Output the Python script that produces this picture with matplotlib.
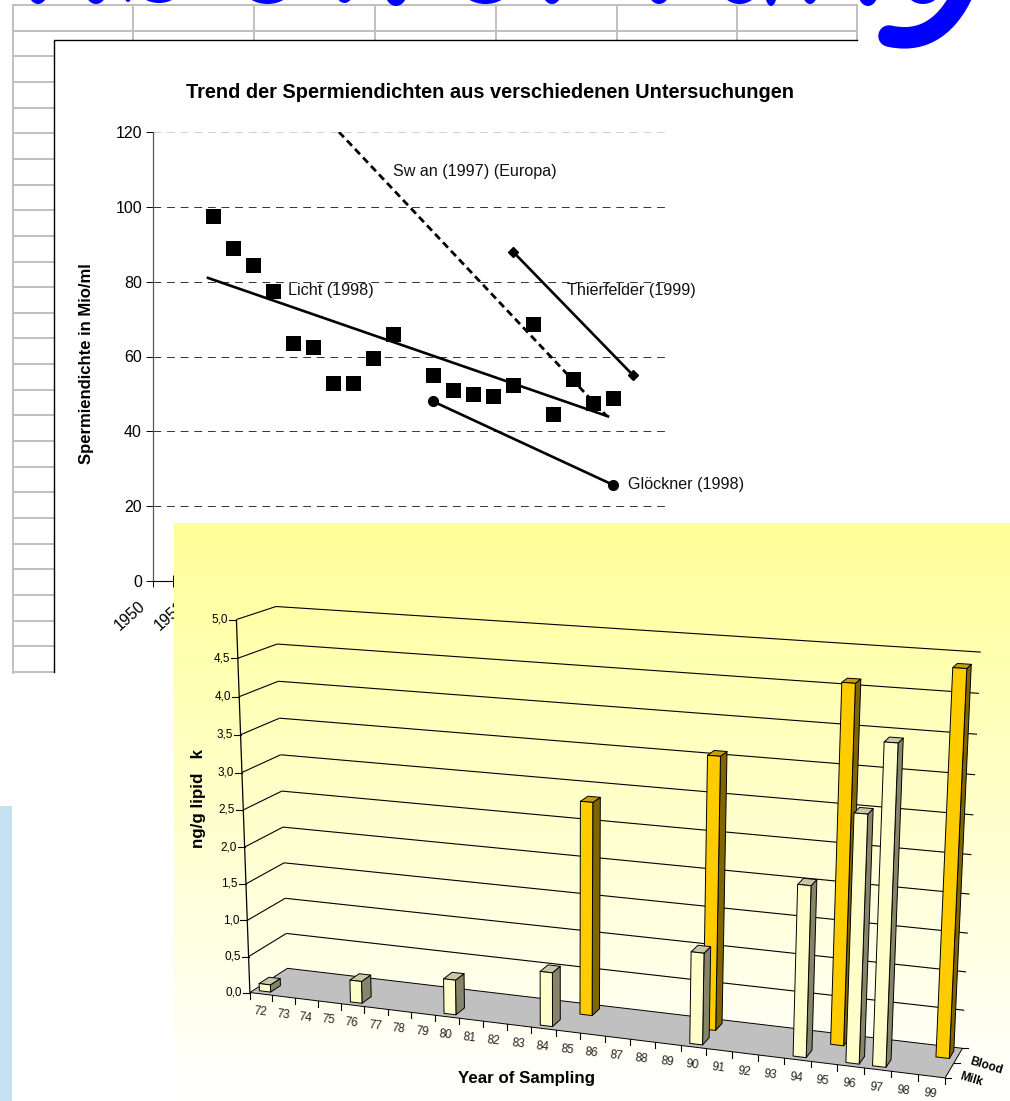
import numpy as np
import matplotlib
matplotlib.use("Agg")
import matplotlib.pyplot as plt
from matplotlib.patches import Rectangle, Ellipse, PathPatch
from matplotlib.path import Path
from matplotlib.transforms import ScaledTranslation

plt.rcParams["font.family"] = ["Liberation Sans", "DejaVu Sans"]

W, H = 1010, 1101

# upper chart: sperm density trends
licht_years = [1953, 1954, 1955, 1956, 1957, 1958, 1959, 1960, 1961, 1962,
               1964, 1965, 1966, 1967, 1968, 1969, 1970, 1971, 1972, 1973]
licht_values = [97.5, 89, 84.5, 77.5, 63.5, 62.5, 53, 53, 59.5, 66,
                55, 51, 50, 49.5, 52.5, 68.7, 44.5, 54, 47.5, 49]
licht_trend_years = [1952.75, 1972.75]
licht_trend_values = [81, 44]
swan_years = [1959.3, 1972.7]
swan_values = [120, 44]
thierfelder_years = [1968, 1974]
thierfelder_values = [88, 55]
gloeckner_years = [1964, 1973]
gloeckner_values = [48, 25.7]
density_ticks = [0, 20, 40, 60, 80, 100, 120]
tick_years = list(range(1950, 1976))
label_years = [1950, 1952]

# lower chart: 3d bars
sample_years = list(range(72, 100))
milk_years = [72, 76, 80, 84, 90, 94, 96, 97]
milk_values = [0.1, 0.3, 0.47, 0.72, 1.2, 2.2, 3.15, 4.04]
blood_years = [85, 90, 95, 99]
blood_values = [2.84, 3.57, 4.6, 4.87]
lipid_ticks = [0.0, 0.5, 1.0, 1.5, 2.0, 2.5, 3.0, 3.5, 4.0, 4.5, 5.0]

# bottoms of the big blue heading that is cut off by the top of the picture
heading_bits = [(28, 48, 4), (85, 107, 4), (123, 133, 2), (138, 180, 3), (245, 290, 4),
                (335, 354, 3), (385, 407, 6), (463, 508, 4), (542, 562, 4), (648, 670, 4),
                (722, 757, 4), (765, 777, 6), (802, 818, 4), (858, 878, 6)]

fig = plt.figure(figsize=(W / 100, H / 100), dpi=100, facecolor="white")


def pixel_axes(zorder):
    ax = fig.add_axes([0, 0, 1, 1], zorder=zorder)
    ax.set_xlim(0, W)
    ax.set_ylim(H, 0)
    ax.axis("off")
    return ax


# page background, spreadsheet grid and the white chart panel
page = pixel_axes(0)
GREY = "#c0c0c0"
for x in [132.5, 253.5, 374.5, 495.5, 616.5, 736.5, 857]:
    page.plot([x, x], [5, 40], color=GREY, lw=1.4)
page.plot([13, 13], [5, 672.5], color=GREY, lw=1.4)
for i in range(27):
    y = 5 + 25.65 * i
    page.plot([13, 857], [y, y], color=GREY, lw=1.4)
page.add_patch(Rectangle((53.5, 39.5), 806, 640, fc="white", ec="none", zorder=3))
page.plot([53.5, 53.5, 857], [672, 39.5, 39.5], color="black", lw=1.0, zorder=4)
page.add_patch(Rectangle((0, 806), 12, H - 806, fc="#c5e2f2", ec="none"))

for x0, x1, bottom in heading_bits:
    page.add_patch(Ellipse(((x0 + x1) / 2, bottom - 14), x1 - x0, 28, fc="#0000ff", ec="none", zorder=5))
page.add_patch(Ellipse((923, -10), 34, 28, fc="#0000ff", ec="none", zorder=5))
tail = Path([(889, 36), (915, 42), (945, 35), (965, -12)], [Path.MOVETO, Path.CURVE4, Path.CURVE4, Path.CURVE4])
page.add_patch(PathPatch(tail, fc="none", ec="#0000ff", lw=15.5, capstyle="round", zorder=5))

# upper chart, placed through its own data axes
ax = fig.add_axes([153 / W, 1 - 581 / H, (668 - 153) / W, (581 - 132) / H], zorder=1)
ax.patch.set_alpha(0)
ax.set_xlim(1950, 1975.75)
ax.set_ylim(0, 120)
for side in ["top", "right"]:
    ax.spines[side].set_visible(False)
ax.spines["left"].set_color("#555555")
ax.spines["left"].set_linewidth(0.9)
ax.spines["bottom"].set_linewidth(0.8)
ax.set_yticks(density_ticks)
ax.set_xticks(tick_years)
ax.set_xticklabels([y if y in label_years else "" for y in tick_years], rotation=42, ha="right", rotation_mode="anchor")
ax.tick_params(axis="both", labelsize=11.5, length=5, width=0.7, pad=3)
ax.tick_params(axis="x", direction="inout", length=8, pad=4)
shift = ScaledTranslation(-15 / 100, -6 / 100, fig.dpi_scale_trans)
for lab in ax.get_xticklabels():
    lab.set_transform(lab.get_transform() + shift)
for val in density_ticks[1:]:
    ax.hlines(val, 1950, 1975.75, color="#d0d0d0" if val == 120 else "#333333",
              lw=0.7, linestyles=[(0, (8, 6))], zorder=1)
ax.plot(licht_years, licht_values, "s", color="black", ms=10.8, mew=0, zorder=3)
ax.plot(licht_trend_years, licht_trend_values, color="black", lw=1.9, zorder=3)
ax.plot(swan_years, swan_values, color="black", lw=2, ls=(0, (2.6, 1.6)), zorder=3)
ax.plot(thierfelder_years, thierfelder_values, "-D", color="black", lw=1.9, ms=5, zorder=3)
ax.plot(gloeckner_years, gloeckner_values, "-o", color="black", lw=1.9, ms=7, zorder=3)
ax.text(1956.75, 77.7, "Licht (1998)", fontsize=11.6, va="center", color="#111111")
ax.text(1962, 109.5, "Sw an (1997) (Europa)", fontsize=11.6, va="center", color="#111111")
ax.text(1970.7, 77.7, "Thierfelder (1999)", fontsize=11.6, va="center", color="#111111")
ax.text(1973.75, 25.7, "Glöckner (1998)", fontsize=11.6, va="center", color="#111111", clip_on=False)
ax.set_ylabel("Spermiendichte in Mio/ml", fontsize=12, fontweight="bold", va="center")
ax.yaxis.set_label_coords((87 - 153) / (668 - 153), (581 - 364) / (581 - 132))
fig.text(490 / W, 1 - 92 / H, "Trend der Spermiendichten aus verschiedenen Untersuchungen",
         fontsize=14.4, fontweight="bold", ha="center", va="center", zorder=1)

# lower chart: yellow fading panel plus a perspective projection of the bars
low = pixel_axes(2)
fade = np.ones((256, 1, 3))
fade[:, 0, 2] = np.linspace(0.6, 1.0, 256)
low.imshow(fade, extent=(174, W, H, 523), aspect="auto", zorder=0)
low.set_xlim(0, W)
low.set_ylim(H, 0)

# (across, depth, height) box corners -> picture pixels, fitted to the drawn frame
frame_from = np.array([[0, 0, 0], [0, 0, 1], [0, 1, 0], [0, 1, 1], [1, 1, 0], [1, 1, 1], [1, 0, 0],
                       [0.5, 0, 0], [0, 0, 0.5], [0, 1, 0.5], [1, 1, 0.5]], dtype=float)
frame_to = np.array([[250, 992], [237, 619], [288, 968], [276, 607], [963, 1048], [981, 652], [945, 1077],
                     [580, 1035], [243, 810], [281, 791], [971, 855]], dtype=float)
rows, rhs = [], []
for (a, b, c), (px, py) in zip(frame_from, frame_to):
    rows.append([a, b, c, 1, 0, 0, 0, 0, -px * a, -px * b, -px * c])
    rows.append([0, 0, 0, 0, a, b, c, 1, -py * a, -py * b, -py * c])
    rhs += [px, py]
sol = np.linalg.lstsq(np.array(rows), np.array(rhs), rcond=None)[0]
P = np.append(sol, 1.0).reshape(3, 4)


def project(u, z, v):
    # u across the years, z depth, v value in ng/g
    q = P @ np.array([u, z, v / 5.0, 1.0])
    return q[0] / q[2], q[1] / q[2]


def poly(points, color, zorder):
    xs, ys = zip(*[project(*p) for p in points])
    low.fill(xs, ys, fc=color, ec="black", lw=0.7, zorder=zorder, joinstyle="round")


def line(p0, p1, lw=0.9, zorder=2):
    a, b = project(*p0), project(*p1)
    low.plot([a[0], b[0]], [a[1], b[1]], color="black", lw=lw, zorder=zorder, solid_capstyle="butt")


def draw_bar(year, value, z0, z1, front, side, top, zorder):
    k = sample_years.index(year)
    u0 = (k + 0.25) / len(sample_years)
    u1 = (k + 0.75) / len(sample_years)
    poly([(u1, z0, 0), (u1, z1, 0), (u1, z1, value), (u1, z0, value)], side, zorder)
    poly([(u0, z0, value), (u1, z0, value), (u1, z1, value), (u0, z1, value)], top, zorder)
    poly([(u0, z0, 0), (u1, z0, 0), (u1, z0, value), (u0, z0, value)], front, zorder)


poly([(0, 0, 0), (1, 0, 0), (1, 1, 0), (0, 1, 0)], "#c0c0c0", 1)
line((0, 0, 0), (0, 0, 5), lw=0.9)
for val in lipid_ticks:
    if val > 0:
        line((0, 0, val), (0, 1, val), lw=0.8)
        line((0, 1, val), (1, 1, val), lw=0.8)
    x, y = project(0, 0, val)
    low.plot([x - 7, x], [y, y], color="black", lw=0.8, zorder=2)
    low.text(x - 8, y, f"{val:.1f}".replace(".", ","), fontsize=8.5, ha="right", va="center", zorder=2)

for k in range(len(sample_years) + 1):
    u = k / len(sample_years)
    x, y = project(u, 0, 0)
    low.plot([x, x], [y, y + 6], color="black", lw=0.8, zorder=2)
for k, year in enumerate(sample_years):
    x, y = project((k + 0.5) / len(sample_years), 0, 0)
    low.text(x - 1, y + 18, str(year), fontsize=8.5, rotation=-7, ha="center", va="center", color="#222222", zorder=2)

for z in [0, 0.5, 1]:
    x, y = project(1, z, 0)
    low.plot([x, x + 6], [y, y], color="black", lw=0.8, zorder=2)
for z, name, dx, dy in [(0.75, "Blood", 28, 11), (0.25, "Milk", 22, 9)]:
    x, y = project(1, z, 0)
    low.text(x + dx, y + dy, name, fontsize=8.5, fontweight="bold", rotation=-17, ha="center", va="center", zorder=2)

for year, value in zip(blood_years, blood_values):
    draw_bar(year, value, 0.62, 0.88, "#ffcc00", "#806600", "#c8a000", 3)
for year, value in zip(milk_years, milk_values):
    draw_bar(year, value, 0.1, 0.36, "#ffffcc", "#85856a", "#c8c8a8", 4)

low.text(527, 1078, "Year of Sampling", fontsize=12.2, fontweight="bold", ha="center", va="center", zorder=2)
low.text(199, 799, "ng/g lipid   k", fontsize=12.2, fontweight="bold", rotation=90, ha="center", va="center", zorder=2)

fig.savefig("out.png", dpi=100)
